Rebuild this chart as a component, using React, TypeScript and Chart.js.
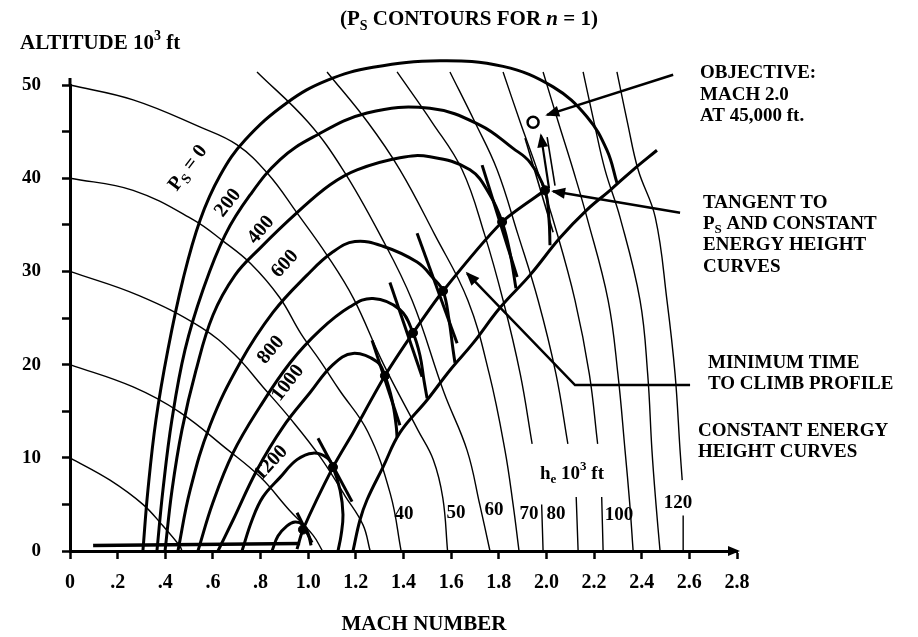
import React, { useEffect, useRef } from "react";
import { Chart, registerables } from "chart.js";

Chart.register(...registerables);

type P = [number, number];

// ---------- axis ticks ----------
const machMin = 0;
const machMax = 2.8;
const machStep = 0.2;
const altMin = 0;
const altMax = 50;
const altStep = 5;
const altLabelEvery = 10;

// ---------- Ps contours (thick), [Mach, altitude 10^3 ft] ----------
const psZero: P[] = [[0.306, 0], [0.327, 6.5], [0.361, 14.1], [0.411, 21.6], [0.474, 29.1], [0.546, 35.5], [0.63, 40.3], [0.735, 44.1], [0.911, 48.1], [1.079, 50.5], [1.272, 51.9], [1.553, 52.6], [1.818, 52.0], [2.028, 49.8], [2.17, 46.6], [2.254, 43.0], [2.296, 39.5]];
const ps200: P[] = [[0.365, 0], [0.39, 6.5], [0.428, 14.1], [0.483, 21.6], [0.558, 28.0], [0.651, 33.9], [0.756, 38.2], [0.882, 42.0], [1.02, 44.4], [1.247, 47.0], [1.511, 47.5], [1.721, 45.7], [1.86, 43.2], [1.931, 41.7], [1.994, 38.7], [2.011, 35.5], [2.015, 32.8]];
const ps400: P[] = [[0.399, 0], [0.428, 6.5], [0.47, 13.0], [0.529, 19.4], [0.6, 25.3], [0.693, 29.6], [0.798, 32.5], [0.953, 36.3], [1.092, 39.3], [1.205, 40.9], [1.385, 42.2], [1.511, 42.3], [1.679, 40.9], [1.763, 38.2], [1.814, 35.3], [1.847, 32.0], [1.872, 28.2]];
const ps600: P[] = [[0.453, 0], [0.504, 6.5], [0.588, 13.5], [0.714, 20.2], [0.852, 25.6], [0.995, 29.6], [1.104, 32.1], [1.196, 33.2], [1.314, 32.7], [1.457, 31.0], [1.524, 29.3], [1.566, 27.9], [1.591, 24.8], [1.608, 21.6], [1.616, 20.2]];
const ps800: P[] = [[0.537, 0], [0.6, 5.2], [0.684, 10.5], [0.798, 15.5], [0.924, 20.2], [1.05, 23.7], [1.175, 26.2], [1.272, 27.1], [1.385, 25.9], [1.44, 23.4], [1.469, 21.0], [1.486, 18.3], [1.499, 16.4]];
const ps1000: P[] = [[0.621, 0], [0.684, 3.3], [0.785, 8.7], [0.894, 13.3], [1.008, 17.0], [1.104, 20.0], [1.188, 21.2], [1.289, 20.3], [1.322, 18.8], [1.352, 16.2], [1.369, 13.5], [1.373, 12.2]];
const ps1200: P[] = [[0.722, 0], [0.764, 3.3], [0.81, 5.8], [0.882, 7.9], [0.953, 9.8], [1.02, 10.5], [1.079, 10.0], [1.104, 9.0], [1.134, 6.5], [1.146, 3.9], [1.138, 1.7], [1.125, 0]];
const ps1400: P[] = [[0.848, 0], [0.873, 1.6], [0.911, 2.7], [0.945, 3.1], [0.978, 2.8], [0.999, 1.9], [1.012, 0.6]];

// ---------- boundary & climb profile ----------
const boundaryLine: P[] = [[1.188, 0], [1.217, 3.3], [1.247, 5.5], [1.314, 9.0], [1.385, 12.7], [1.499, 16.2], [1.595, 19.4], [1.692, 22.3], [1.805, 26.1], [1.931, 29.6], [2.057, 33.6], [2.17, 36.6], [2.267, 38.7], [2.364, 40.9], [2.464, 43.0]];
const climbProfile: P[] = [[0.953, 0.2], [0.978, 2.3], [1.104, 9.0], [1.188, 12.7], [1.322, 18.8], [1.44, 23.4], [1.566, 27.9], [1.814, 35.3], [1.994, 38.7]];
const takeoffRun: P[] = [[0.097, 0.6], [0.966, 0.8]];
const tangentPoints: P[] = [[0.978, 2.3], [1.104, 9.0], [1.322, 18.8], [1.44, 23.4], [1.566, 27.9], [1.814, 35.3], [1.994, 38.7]];
const tangentMarks: P[][] = [
  [[0.953, 4.1], [1.016, 0.9]],
  [[1.041, 12.1], [1.184, 5.3]],
  [[1.268, 22.6], [1.385, 13.5]],
  [[1.343, 28.8], [1.478, 18.7]],
  [[1.457, 34.1], [1.625, 22.3]],
  [[1.73, 41.4], [1.877, 29.4]],
];
const tangentThin: P[] = [[1.91, 44.3], [2.028, 34.2]];
const zoomClimbA: P[] = [[2.011, 38.9], [1.977, 44.6]];
const zoomClimbB: P[] = [[2.036, 39.2], [2.003, 44.4]];
const objectivePoint: P[] = [[1.944, 46.0]];

// ---------- leader lines ----------
const leaderObjective: P[] = [[2.532, 51.1], [2.003, 46.8]];
const leaderTangent: P[] = [[2.561, 36.3], [2.028, 38.6]];
const leaderProfile: P[] = [[2.603, 17.8], [2.12, 17.8], [1.667, 29.8]];

// ---------- constant energy height curves (thin) ----------
const he10: P[] = [[0, 10], [0.168, 7.6], [0.306, 5.0], [0.39, 2.7], [0.462, 0.5], [0.47, 0]];
const he20: P[] = [[0, 20], [0.265, 17.6], [0.46, 14.9], [0.66, 10.9], [0.8, 7.9], [0.92, 4.4], [1.02, 1.7], [1.06, 0]];
const he30: P[] = [[0, 30], [0.29, 27.4], [0.55, 24.0], [0.69, 21.1], [0.81, 17.6], [0.925, 14.2], [1.05, 10.1], [1.155, 5.9], [1.23, 2.8], [1.26, 0]];
const he40: P[] = [[0, 40], [0.265, 38.7], [0.52, 35.5], [0.64, 33.3], [0.76, 30.8], [0.88, 27.2], [0.97, 23.3], [1.05, 20.4], [1.13, 17.3], [1.25, 12.8], [1.345, 6.1], [1.39, 0]];
const he50: P[] = [[0, 50], [0.265, 48.4], [0.545, 45.5], [0.7, 43.6], [0.83, 40.5], [0.955, 36.2], [1.08, 31.7], [1.19, 27.1], [1.315, 20.1], [1.46, 13.0], [1.525, 9.8], [1.565, 5.7], [1.585, 0]];
const he60: P[] = [[0.785, 51.4], [1.0, 46], [1.146, 40.9], [1.3, 34], [1.436, 26.9], [1.57, 17], [1.667, 10.8], [1.72, 5], [1.763, 0]];
const he70: P[] = [[1.079, 51.4], [1.25, 46], [1.385, 40.9], [1.53, 34], [1.67, 26.9], [1.76, 19], [1.826, 10.8], [1.86, 5], [1.885, 0]];
const he80a: P[] = [[1.373, 51.4], [1.52, 46], [1.646, 40.9], [1.74, 34], [1.818, 26.9], [1.89, 19], [1.94, 11.5]];
const he80b: P[] = [[1.98, 5.0], [1.986, 0]];
const he90a: P[] = [[1.595, 51.4], [1.7, 46], [1.793, 40.9], [1.88, 34], [1.965, 26.9], [2.04, 19], [2.09, 11.5]];
const he90b: P[] = [[2.125, 5.8], [2.133, 0]];
const he100a: P[] = [[1.818, 51.4], [1.89, 46], [1.961, 40.9], [2.04, 34.5], [2.12, 26.9], [2.18, 19], [2.215, 11.5]];
const he100b: P[] = [[2.232, 5.8], [2.238, 0]];
const he110: P[] = [[1.986, 51.4], [2.05, 46], [2.112, 40.9], [2.17, 35.8], [2.259, 26.9], [2.3, 19], [2.33, 10.8], [2.35, 5], [2.364, 0]];
const he120: P[] = [[2.154, 51.4], [2.2, 46], [2.246, 40.9], [2.309, 35.8], [2.393, 26.9], [2.425, 19], [2.443, 10.8], [2.46, 5], [2.477, 0]];
const he130a: P[] = [[2.296, 51.4], [2.34, 46], [2.385, 40.9], [2.457, 35.8], [2.506, 26.9], [2.54, 19], [2.561, 10.8], [2.57, 7.6]];
const he130b: P[] = [[2.574, 3.8], [2.574, 0]];

// ---------- texts ----------
const FONT = '"Liberation Serif", "Times New Roman", serif';
type Part = { t: string; sub?: boolean; sup?: boolean; italic?: boolean };
type TextItem = { x: number; y: number; size: number; parts: Part[]; align?: "left" | "center"; rot?: number };

const titleParts: Part[] = [{ t: "(P" }, { t: "S", sub: true }, { t: " CONTOURS FOR " }, { t: "n", italic: true }, { t: " = 1)" }];
const yTitleParts: Part[] = [{ t: "ALTITUDE 10" }, { t: "3", sup: true }, { t: " ft" }];
const xTitle = "MACH NUMBER";
const objectiveLines = ["OBJECTIVE:", "MACH 2.0", "AT 45,000 ft."];
const tangentLines: Part[][] = [[{ t: "TANGENT TO" }], [{ t: "P" }, { t: "S", sub: true }, { t: " AND CONSTANT" }], [{ t: "ENERGY HEIGHT" }], [{ t: "CURVES" }]];
const profileLines = ["MINIMUM TIME", "TO CLIMB PROFILE"];
const energyLines = ["CONSTANT ENERGY", "HEIGHT CURVES"];
const heUnitParts: Part[] = [{ t: "h" }, { t: "e", sub: true }, { t: " 10" }, { t: "3", sup: true }, { t: " ft" }];
const heLabels: { t: string; x: number; y: number }[] = [
  { t: "40", x: 404, y: 514 }, { t: "50", x: 456, y: 513 }, { t: "60", x: 494, y: 510 },
  { t: "70", x: 529, y: 514 }, { t: "80", x: 556, y: 514 }, { t: "100", x: 619, y: 515 }, { t: "120", x: 678, y: 503 },
];
const psLabels: { parts: Part[]; x: number; y: number; rot: number }[] = [
  { parts: [{ t: "P" }, { t: "S", sub: true }, { t: " = 0" }], x: 188, y: 168, rot: -53 },
  { parts: [{ t: "200" }], x: 228, y: 203, rot: -52 },
  { parts: [{ t: "400" }], x: 261, y: 230, rot: -50 },
  { parts: [{ t: "600" }], x: 285, y: 264, rot: -48 },
  { parts: [{ t: "800" }], x: 271, y: 350, rot: -50 },
  { parts: [{ t: "1000" }], x: 288, y: 383, rot: -52 },
  { parts: [{ t: "1200" }], x: 271, y: 463, rot: -47 },
];

function buildTexts(): TextItem[] {
  const items: TextItem[] = [];
  items.push({ x: 340, y: 20, size: 21, parts: titleParts });
  items.push({ x: 20, y: 44, size: 21, parts: yTitleParts });
  items.push({ x: 424, y: 625, size: 21, parts: [{ t: xTitle }], align: "center" });
  const oy = [73, 95, 116];
  objectiveLines.forEach((t, i) => items.push({ x: 700, y: oy[i], size: 19, parts: [{ t }] }));
  const ty = [203, 224, 245, 267];
  tangentLines.forEach((p, i) => items.push({ x: 703, y: ty[i], size: 19, parts: p }));
  const py = [363, 384];
  profileLines.forEach((t, i) => items.push({ x: 708, y: py[i], size: 19, parts: [{ t }] }));
  const ey = [431, 452];
  energyLines.forEach((t, i) => items.push({ x: 698, y: ey[i], size: 19, parts: [{ t }] }));
  items.push({ x: 540, y: 474, size: 19, parts: heUnitParts });
  heLabels.forEach((l) => items.push({ x: l.x, y: l.y, size: 19, parts: [{ t: l.t }], align: "center" }));
  psLabels.forEach((l) => items.push({ x: l.x, y: l.y, size: 20, parts: l.parts, align: "center", rot: l.rot }));
  return items;
}

function partFont(p: Part, size: number) {
  const s = p.sub || p.sup ? Math.round(size * 0.68) : size;
  return `${p.italic ? "italic " : ""}bold ${s}px ${FONT}`;
}

function drawParts(ctx: CanvasRenderingContext2D, item: TextItem) {
  ctx.save();
  ctx.translate(item.x, item.y);
  if (item.rot) ctx.rotate((item.rot * Math.PI) / 180);
  ctx.fillStyle = "#000";
  ctx.textBaseline = "middle";
  ctx.textAlign = "left";
  let total = 0;
  for (const p of item.parts) {
    ctx.font = partFont(p, item.size);
    total += ctx.measureText(p.t).width;
  }
  let cx = item.align === "center" ? -total / 2 : 0;
  for (const p of item.parts) {
    ctx.font = partFont(p, item.size);
    const dy = p.sub ? item.size * 0.3 : p.sup ? -item.size * 0.38 : 0;
    ctx.fillText(p.t, cx, dy);
    cx += ctx.measureText(p.t).width;
  }
  ctx.restore();
}

const overlayPlugin = {
  id: "overlay",
  afterDatasetsDraw(chart: any) {
    const ctx: CanvasRenderingContext2D = chart.ctx;
    chart.data.datasets.forEach((ds: any, i: number) => {
      if (!ds.arrowEnd) return;
      const pts = chart.getDatasetMeta(i).data;
      if (pts.length < 2) return;
      const a = pts[pts.length - 2];
      const b = pts[pts.length - 1];
      const ang = Math.atan2(b.y - a.y, b.x - a.x);
      ctx.save();
      ctx.translate(b.x, b.y);
      ctx.rotate(ang);
      ctx.beginPath();
      ctx.moveTo(2, 0);
      ctx.lineTo(-12, -5.5);
      ctx.lineTo(-12, 5.5);
      ctx.closePath();
      ctx.fillStyle = "#000";
      ctx.fill();
      ctx.restore();
    });
    const { left, right, top, bottom } = chart.chartArea;
    ctx.save();
    ctx.fillStyle = "#000";
    ctx.strokeStyle = "#000";
    ctx.lineWidth = 3;
    ctx.beginPath();
    ctx.moveTo(right + 3, bottom);
    ctx.lineTo(right - 9, bottom - 5);
    ctx.lineTo(right - 9, bottom + 5);
    ctx.closePath();
    ctx.fill();
    ctx.beginPath();
    ctx.moveTo(left, top);
    ctx.lineTo(left, top - 7);
    ctx.stroke();
    ctx.restore();
  },
  afterDraw(chart: any) {
    const ctx: CanvasRenderingContext2D = chart.ctx;
    buildTexts().forEach((it) => drawParts(ctx, it));
  },
};

const xy = (pts: P[]) => pts.map(([x, y]) => ({ x, y }));
function line(pts: P[], width: number, extra: any = {}) {
  return {
    data: xy(pts),
    showLine: true,
    borderColor: "#000",
    backgroundColor: "#000",
    borderWidth: width,
    pointRadius: 0,
    pointHoverRadius: 0,
    tension: 0.4,
    clip: false,
    ...extra,
  };
}

export default function App() {
  const ref = useRef<HTMLCanvasElement | null>(null);
  useEffect(() => {
    if (!ref.current) return;
    const THIN = 1.4;
    const THICK = 3;
    const datasets: any[] = [
      ...[he10, he20, he30, he40, he50, he60, he70, he80a, he80b, he90a, he90b, he100a, he100b, he110, he120, he130a, he130b].map((d) => line(d, THIN)),
      ...[psZero, ps200, ps400, ps600, ps800, ps1000, ps1200, ps1400].map((d) => line(d, THICK)),
      line(boundaryLine, THICK),
      line(climbProfile, THICK, { tension: 0.25 }),
      line(takeoffRun, 3.5, { tension: 0 }),
      ...tangentMarks.map((d) => line(d, 3, { tension: 0 })),
      line(tangentThin, 1.6, { tension: 0 }),
      line(zoomClimbA, 2.2, { tension: 0, arrowEnd: true }),
      line(zoomClimbB, 1.6, { tension: 0 }),
      line(leaderObjective, 2.5, { tension: 0, arrowEnd: true }),
      line(leaderTangent, 2.5, { tension: 0, arrowEnd: true }),
      line(leaderProfile, 2.5, { tension: 0, arrowEnd: true }),
      { data: xy(tangentPoints), showLine: false, pointRadius: 4.5, pointBackgroundColor: "#000", pointBorderColor: "#000", clip: false },
      { data: xy(objectivePoint), showLine: false, pointRadius: 5.5, pointBackgroundColor: "#fff", pointBorderColor: "#000", pointBorderWidth: 2.5, clip: false },
    ];
    const tickFont = { family: FONT, size: 20, weight: "bold" as const };
    const chart = new Chart(ref.current, {
      type: "scatter",
      data: { datasets },
      options: {
        animation: false,
        responsive: true,
        maintainAspectRatio: false,
        events: [],
        layout: { padding: { left: 20, right: 181, top: 85, bottom: 41 } },
        plugins: { legend: { display: false }, tooltip: { enabled: false } },
        scales: {
          x: {
            type: "linear",
            min: machMin,
            max: machMax,
            afterFit: (s: any) => { s.height = 45; },
            border: { display: true, color: "#000", width: 3 },
            grid: { drawOnChartArea: false, drawTicks: true, tickLength: 8, tickWidth: 2.5, tickColor: "#000", color: "#000" },
            ticks: {
              stepSize: machStep,
              color: "#000",
              font: tickFont,
              padding: 12,
              maxRotation: 0,
              autoSkip: false,
              callback: (v: any) => {
                const n = Math.round(Number(v) * 10);
                if (n === 0) return "0";
                if (n < 10) return "." + n;
                return (n / 10).toFixed(1);
              },
            },
          },
          y: {
            type: "linear",
            min: altMin,
            max: altMax,
            afterFit: (s: any) => { s.width = 50; },
            border: { display: true, color: "#000", width: 3 },
            grid: { drawOnChartArea: false, drawTicks: true, tickLength: 8, tickWidth: 2.5, tickColor: "#000", color: "#000" },
            ticks: {
              stepSize: altStep,
              color: "#000",
              font: { ...tickFont, size: 19 },
              padding: 21,
              autoSkip: false,
              callback: (v: any) => (Math.round(Number(v)) % altLabelEvery === 0 ? String(Math.round(Number(v))) : ""),
            },
          },
        },
      },
      plugins: [overlayPlugin],
    });
    return () => chart.destroy();
  }, []);
  return (
    <div style={{ position: "fixed", left: 0, top: 0, width: 918, height: 637, background: "#fff" }}>
      <canvas ref={ref} />
    </div>
  );
}
